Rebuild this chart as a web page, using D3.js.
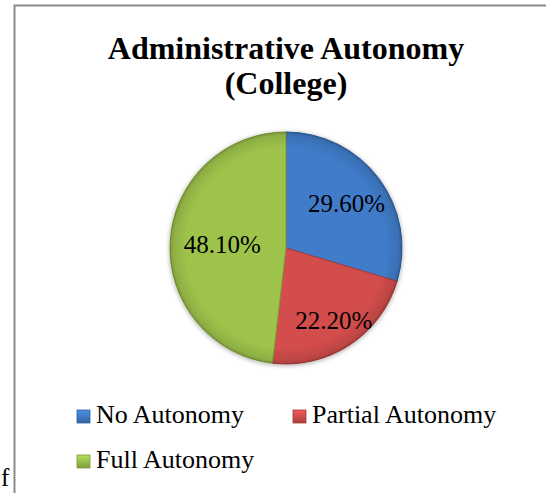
<!DOCTYPE html>
<html>
<head>
<meta charset="utf-8">
<script src="https://cdn.jsdelivr.net/npm/d3@7"></script>
<style>
  html, body { margin: 0; padding: 0; background: #fff; }
  svg { display: block; }
</style>
</head>
<body>
<svg id="chart" width="546" height="493"></svg>
<script>
// Share of colleges by level of administrative autonomy (percent)
const categories = ["No Autonomy", "Partial Autonomy", "Full Autonomy"];
const shares = [29.6, 22.2, 48.1];
const valueLabels = ["29.60%", "22.20%", "48.10%"];
const titleLines = ["Administrative Autonomy", "(College)"];

const sliceColors = ["#3f7cc9", "#d24e4c", "#9ec34c"];
const sliceEdges = ["#2f619f", "#a83a38", "#7d9c38"];
// radial position of each value label as a fraction of the radius
const labelRadiusFactor = [0.65, 0.75, 0.55];

const svg = d3.select("#chart");
const cx = 286, cy = 248, R = 116;
const serif = "'Liberation Serif', 'Times New Roman', serif";

// chart frame
svg.append("rect")
  .attr("x", 14.5).attr("y", 5.5)
  .attr("width", 560).attr("height", 520)
  .attr("fill", "#fff")
  .attr("stroke", "#8c8c8c").attr("stroke-width", 2);

// stray glyph from surrounding text
svg.append("text")
  .attr("x", 1).attr("y", 486)
  .attr("font-family", serif)
  .attr("font-size", 25).attr("fill", "#000")
  .text("f");

// title
const title = svg.append("text")
  .attr("text-anchor", "middle")
  .attr("font-family", serif)
  .attr("font-weight", "bold")
  .attr("font-size", 32)
  .attr("fill", "#000");
titleLines.forEach((t, i) => {
  title.append("tspan").attr("x", cx).attr("y", 59 + i * 35).text(t);
});

const defs = svg.append("defs");
// rim shading for the bevelled pie
const rim = defs.append("radialGradient").attr("id", "rim")
  .attr("gradientUnits", "userSpaceOnUse")
  .attr("cx", cx).attr("cy", cy).attr("r", R);
rim.append("stop").attr("offset", "0.86").attr("stop-color", "#000").attr("stop-opacity", 0);
rim.append("stop").attr("offset", "0.97").attr("stop-color", "#000").attr("stop-opacity", 0.10);
rim.append("stop").attr("offset", "1").attr("stop-color", "#000").attr("stop-opacity", 0.22);

const shadow = defs.append("filter").attr("id", "shadow")
  .attr("x", "-20%").attr("y", "-20%").attr("width", "140%").attr("height", "140%");
shadow.append("feGaussianBlur").attr("in", "SourceAlpha").attr("stdDeviation", 2.5);
shadow.append("feOffset").attr("dx", 0).attr("dy", 1).attr("result", "b");
shadow.append("feComponentTransfer").append("feFuncA").attr("type", "linear").attr("slope", 0.35);
const merge = shadow.append("feMerge");
merge.append("feMergeNode");
merge.append("feMergeNode").attr("in", "SourceGraphic");

const pie = d3.pie().sort(null).value(d => d)(shares);
const arc = d3.arc().innerRadius(0).outerRadius(R);

const g = svg.append("g").attr("transform", `translate(${cx},${cy})`);
const pieGroup = g.append("g").attr("filter", "url(#shadow)");

pieGroup.selectAll("path.slice")
  .data(pie)
  .join("path")
  .attr("class", "slice")
  .attr("d", arc)
  .attr("fill", (d, i) => sliceColors[i])
  .attr("stroke", (d, i) => sliceEdges[i])
  .attr("stroke-width", 1);

// rim darkening overlay
g.append("circle")
  .attr("r", R)
  .attr("fill", "url(#rim)")
  .attr("transform", `translate(${-cx},${-cy})`)
  .attr("cx", cx).attr("cy", cy);

// value labels
g.selectAll("text.value")
  .data(pie)
  .join("text")
  .attr("class", "value")
  .attr("transform", (d, i) => {
    const r = R * labelRadiusFactor[i];
    const c = d3.arc().innerRadius(r).outerRadius(r).centroid(d);
    return `translate(${c[0]},${c[1]})`;
  })
  .attr("text-anchor", "middle")
  .attr("dy", "0.35em")
  .attr("font-family", serif)
  .attr("font-size", 25)
  .attr("fill", "#000")
  .text((d, i) => valueLabels[i]);

// legend
const legendPos = [[77, 423], [293, 423], [77, 468]];
const legend = svg.append("g");
categories.forEach((c, i) => {
  const [x, y] = legendPos[i];
  const gr = defs.append("linearGradient").attr("id", "lg" + i)
    .attr("x1", 0).attr("y1", 0).attr("x2", 0).attr("y2", 1);
  gr.append("stop").attr("offset", 0).attr("stop-color", d3.color(sliceColors[i]).brighter(0.4));
  gr.append("stop").attr("offset", 1).attr("stop-color", d3.color(sliceColors[i]).darker(0.6));
  legend.append("rect")
    .attr("x", x).attr("y", y - 13)
    .attr("width", 13).attr("height", 13)
    .attr("fill", `url(#lg${i})`)
    .attr("stroke", sliceEdges[i]).attr("stroke-width", 0.8);
  legend.append("text")
    .attr("x", x + 19).attr("y", y)
    .attr("font-family", serif)
    .attr("font-size", 26)
    .attr("fill", "#000")
    .text(c);
});
</script>
</body>
</html>
